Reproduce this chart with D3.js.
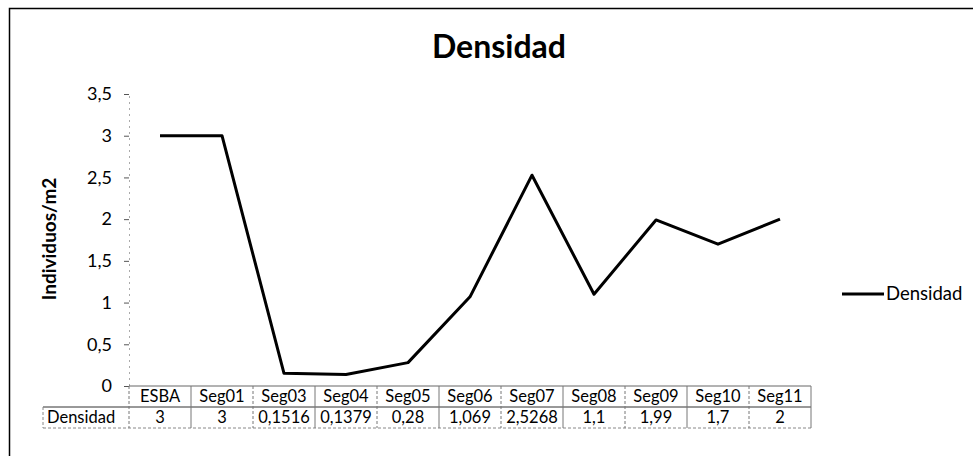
<!DOCTYPE html>
<html>
<head>
<meta charset="utf-8">
<script src="https://d3js.org/d3.v7.min.js"></script>
<style>
body { margin: 0; background: #fff; }
text { font-family: Lato, "Open Sans", sans-serif; fill: #000; }
</style>
</head>
<body>
<div id="chart"></div>
<script>
// datos
var categorias = ["ESBA", "Seg01", "Seg03", "Seg04", "Seg05", "Seg06", "Seg07", "Seg08", "Seg09", "Seg10", "Seg11"];
var densidad = [3, 3, 0.1516, 0.1379, 0.28, 1.069, 2.5268, 1.1, 1.99, 1.7, 2];
var etiquetasTabla = ["3", "3", "0,1516", "0,1379", "0,28", "1,069", "2,5268", "1,1", "1,99", "1,7", "2"];
var ticksY = [0, 0.5, 1, 1.5, 2, 2.5, 3, 3.5];

var W = 973, H = 456;
var plotL = 129, plotR = 811, plotT = 94, plotB = 386;

var svg = d3.select("#chart").append("svg")
    .attr("width", W).attr("height", H);

// marco exterior
svg.append("rect")
    .attr("x", 9.5).attr("y", 8.5)
    .attr("width", 980).attr("height", 470)
    .attr("fill", "none").attr("stroke", "#000").attr("stroke-width", 1.5);

var x = d3.scaleBand().domain(categorias).range([plotL, plotR]);
var y = d3.scaleLinear().domain([0, 3.5]).range([plotB, plotT]);

// titulo
svg.append("text")
    .attr("x", 499).attr("y", 58)
    .attr("text-anchor", "middle")
    .style("font-size", "32px").style("font-weight", "bold")
    .text("Densidad");

// eje Y
var yAxis = d3.axisLeft(y).tickValues(ticksY).tickSize(5).tickPadding(12)
    .tickFormat(function(d) { return String(d).replace(".", ","); });
var gy = svg.append("g").attr("transform", "translate(" + plotL + ",0)").call(yAxis);
gy.select(".domain").attr("stroke", "#aaa").attr("stroke-dasharray", "2,4");
gy.selectAll(".tick line").attr("stroke", "#555");
gy.selectAll("text").style("font-size", "18px").style("font-family", "Lato, sans-serif").attr("fill", "#000");

svg.append("text")
    .attr("transform", "translate(56,239) rotate(-90)")
    .attr("text-anchor", "middle")
    .style("font-size", "19px").style("font-weight", "bold")
    .text("Individuos/m2");

// tabla de datos
var rowH = 21;
var tabla = svg.append("g");
tabla.append("line").attr("x1", plotL).attr("x2", plotR).attr("y1", plotB).attr("y2", plotB)
    .attr("stroke", "#666");
tabla.append("line").attr("x1", 43).attr("x2", plotR).attr("y1", plotB + rowH).attr("y2", plotB + rowH)
    .attr("stroke", "#333");
tabla.append("line").attr("x1", 43).attr("x2", plotR).attr("y1", plotB + 2 * rowH).attr("y2", plotB + 2 * rowH)
    .attr("stroke", "#888").attr("stroke-dasharray", "3,2");
tabla.append("line").attr("x1", 43).attr("x2", 43).attr("y1", plotB + rowH).attr("y2", plotB + 2 * rowH)
    .attr("stroke", "#888").attr("stroke-dasharray", "3,2");

var bordes = categorias.map(function(c) { return x(c); }).concat([plotR]);
tabla.selectAll("line.div").data(bordes).enter().append("line")
    .attr("class", "div")
    .attr("x1", function(d) { return d; }).attr("x2", function(d) { return d; })
    .attr("y1", plotB).attr("y2", plotB + 2 * rowH)
    .attr("stroke", "#777").attr("stroke-dasharray", function(d, i) { return i % 2 ? null : "3,2"; });

tabla.selectAll("text.cat").data(categorias).enter().append("text")
    .attr("class", "cat")
    .attr("x", function(d) { return x(d) + x.bandwidth() / 2; })
    .attr("y", plotB + 16)
    .attr("text-anchor", "middle").style("font-size", "16.5px")
    .text(function(d) { return d; });

tabla.selectAll("text.val").data(etiquetasTabla).enter().append("text")
    .attr("class", "val")
    .attr("x", function(d, i) { return x(categorias[i]) + x.bandwidth() / 2; })
    .attr("y", plotB + rowH + 16)
    .attr("text-anchor", "middle").style("font-size", "16.5px")
    .text(function(d) { return d; });

tabla.append("text").attr("x", 47).attr("y", plotB + rowH + 16)
    .style("font-size", "16.5px").text("Densidad");

// linea
var linea = d3.line()
    .x(function(d, i) { return x(categorias[i]) + x.bandwidth() / 2; })
    .y(function(d) { return y(d); });
svg.append("path").datum(densidad)
    .attr("d", linea)
    .attr("fill", "none").attr("stroke", "#000").attr("stroke-width", 3)
    .attr("stroke-linejoin", "round");

// leyenda
svg.append("line").attr("x1", 842).attr("x2", 884).attr("y1", 294).attr("y2", 294)
    .attr("stroke", "#000").attr("stroke-width", 3);
svg.append("text").attr("x", 886).attr("y", 300).style("font-size", "18.5px").text("Densidad");
</script>
</body>
</html>
